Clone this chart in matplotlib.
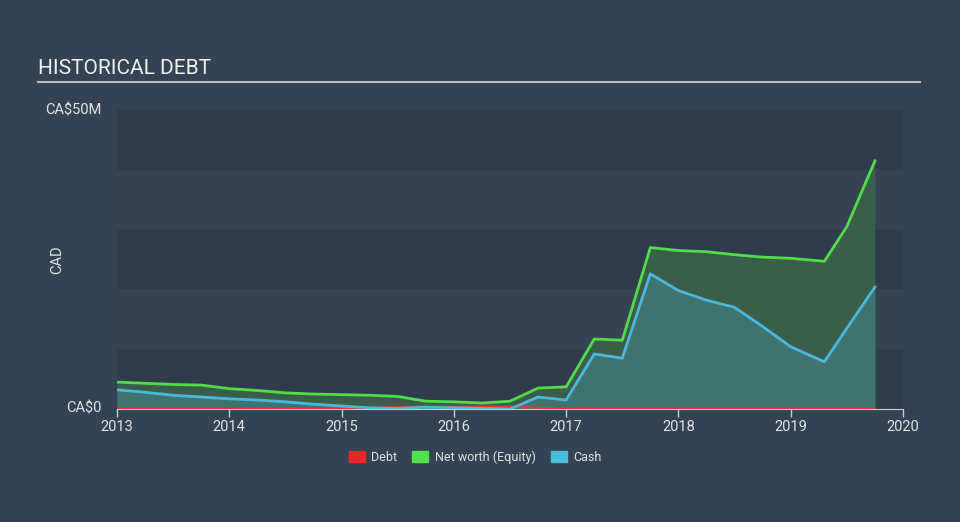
import matplotlib.pyplot as plt
import numpy as np

plt.rcParams['font.family'] = ['Roboto', 'DejaVu Sans']

# quarterly dates (decimal years) and values in CA$ millions
dates = [2013.0, 2013.25, 2013.5, 2013.75, 2014.0, 2014.25, 2014.5, 2014.75,
         2015.0, 2015.25, 2015.5, 2015.75, 2016.0, 2016.25, 2016.5, 2016.75,
         2017.0, 2017.25, 2017.5, 2017.75, 2018.0, 2018.25, 2018.5, 2018.75,
         2019.0, 2019.3, 2019.5, 2019.75]
equity = [4.5, 4.3, 4.1, 4.0, 3.4, 3.1, 2.7, 2.5,
          2.4, 2.3, 2.1, 1.3, 1.2, 1.0, 1.3, 3.5,
          3.7, 11.7, 11.5, 27.0, 26.5, 26.3, 25.8, 25.4,
          25.2, 24.7, 30.5, 41.5]
cash = [3.2, 2.8, 2.3, 2.0, 1.7, 1.5, 1.2, 0.8,
        0.5, 0.2, 0.1, 0.3, 0.2, 0.1, 0.0, 2.0,
        1.5, 9.2, 8.5, 22.6, 19.8, 18.2, 17.0, 13.8,
        10.4, 7.9, 13.5, 20.4]
debt = [0.0, 0.0, 0.0, 0.0, 0.0, 0.0, 0.0, 0.0,
        0.1, 0.2, 0.3, 0.4, 0.4, 0.4, 0.4, 0.2,
        0.1, 0.0, 0.0, 0.0, 0.0, 0.0, 0.0, 0.0,
        0.0, 0.0, 0.0, 0.0]
years = [2013, 2014, 2015, 2016, 2017, 2018, 2019, 2020]

bg = '#344354'
fig = plt.figure(figsize=(9.6, 5.22), dpi=100, facecolor=bg)
ax = fig.add_axes([117/960, 113/522, 786/960, 299/522])
ax.set_facecolor(bg)

# alternating horizontal bands
for lo in range(0, 50, 10):
    shade = '#2f3c4b' if (lo // 10) % 2 == 0 else '#354353'
    ax.axhspan(lo, lo + 10, color=shade, zorder=0, lw=0)

ax.fill_between(dates, 0, equity, color='#3a5e4b', zorder=1, lw=0)
ax.fill_between(dates, 0, cash, color='#3f7370', zorder=2, lw=0)
ax.plot(dates, equity, color='#52dc4c', lw=2, zorder=4)
ax.plot(dates, cash, color='#4bb8da', lw=2, zorder=4)
ax.plot(dates, debt, color='#e8362c', lw=1.5, zorder=3)

ax.set_xlim(2013, 2020)
ax.set_ylim(0, 50)
ax.set_xticks(years)
ax.set_xticklabels([str(y) for y in years])
ax.set_yticks([0, 50])
ax.set_yticklabels(['CA$0', 'CA$50M'])
ax.tick_params(axis='x', colors='#c8cdd3', labelcolor='#e0e3e6', labelsize=10.5,
               length=6, width=1, direction='out', pad=2)
ax.tick_params(axis='y', length=0, labelcolor='#e0e3e6', labelsize=10.5, pad=11)
for lbl in ax.get_yticklabels():
    lbl.set_verticalalignment('center')
for s in ['top', 'right', 'left']:
    ax.spines[s].set_visible(False)
ax.spines['bottom'].set_color('#c8cdd3')
fig.text(57/960, 1 - 260/522, 'CAD', color='#e0e3e6', fontsize=10.5,
         rotation=90, ha='center', va='center')

# title with underline
fig.text(38/960, 1 - 69/522, 'HISTORICAL DEBT', color='#eef0f2', fontsize=15,
         va='center', ha='left')
fig.add_artist(plt.Line2D([38/960, 920/960], [1 - 82/522, 1 - 82/522],
                          color='#b8bec6', lw=1.5))

# legend
handles = [plt.Rectangle((0, 0), 1, 1, color=c) for c in ['#e8262a', '#52e04c', '#4bbcdc']]
fig.legend(handles, ['Debt', 'Net worth (Equity)', 'Cash'], loc='center',
           bbox_to_anchor=(475/960, 1 - 457/522), ncol=3, frameon=False,
           labelcolor='#e0e3e6', fontsize=9, handlelength=1.3, handleheight=0.9,
           columnspacing=1.2, handletextpad=0.5)

fig.savefig('out.png', dpi=100, facecolor=bg)
